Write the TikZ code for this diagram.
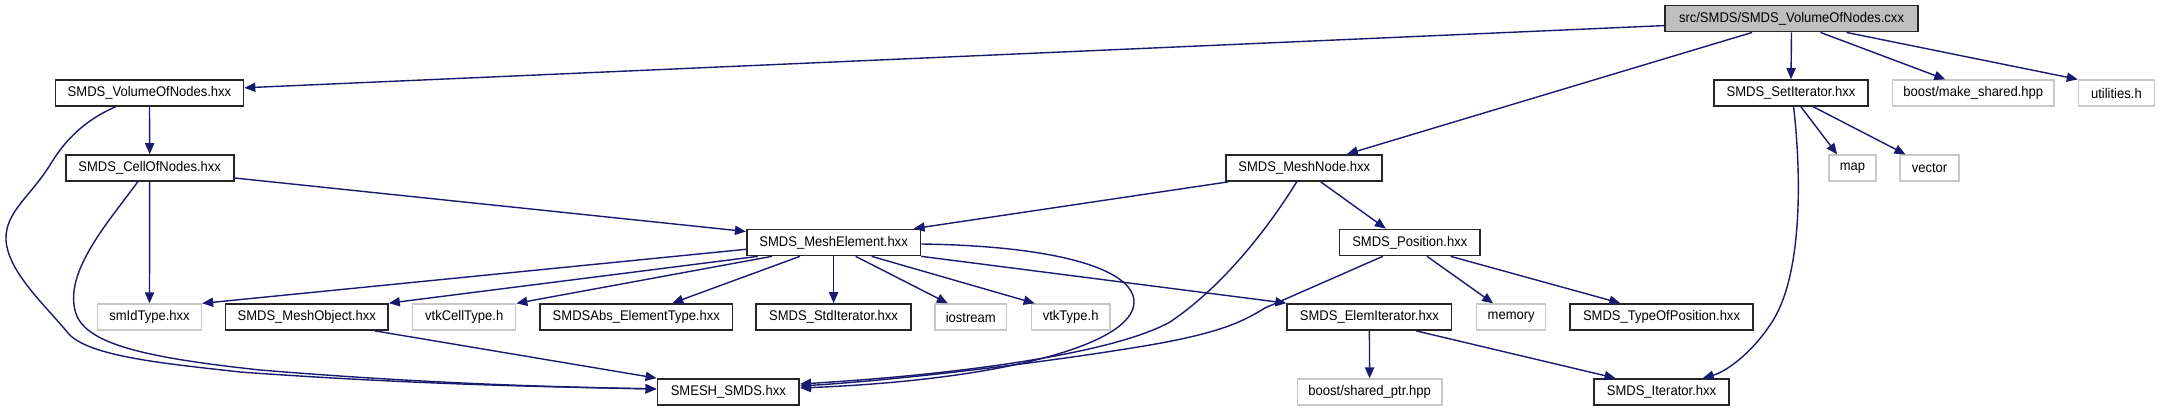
\documentclass[tikz,border=0pt]{standalone}
\usepackage{fontspec}
\setmainfont{Liberation Sans}[FakeStretch=0.93]
\usepackage{tikz}
\usetikzlibrary{arrows.meta}
\definecolor{edgeblue}{HTML}{191970}
\definecolor{rootgray}{HTML}{BFBFBF}
\definecolor{sysgray}{HTML}{C8C8C8}

\begin{document}
\begin{tikzpicture}[x=0.5pt,y=-0.5pt]
      \tikzstyle{every node}=[rectangle,minimum height=13pt,inner sep=0pt,
			      font=\fontsize{7}{8}\selectfont]
      \tikzstyle{hdr}=[draw=black!85,line width=0.85pt,fill=white]
      \tikzstyle{sysinc}=[draw=sysgray,line width=0.65pt,fill=white]
      \tikzstyle{link}=[draw=edgeblue,line width=0.7pt,
			-{Triangle[length=5.5pt,width=4.6pt]}]
      \useasboundingbox (0,0) rectangle (2159,411);

      \node[hdr,fill=rootgray,minimum width=126.5pt] (root) at (1791.5,18.6) {src/SMDS/SMDS\_VolumeOfNodes.cxx};

      \node[hdr,minimum width=94pt] (volnodes) at (149.5,93) {SMDS\_VolumeOfNodes.hxx};
      \node[hdr,minimum width=77.3pt] (setiter) at (1791,93) {SMDS\_SetIterator.hxx};
      \node[sysinc,minimum width=80.6pt] (mkshared) at (1973.3,93) {boost/make\_shared.hpp};
      \node[sysinc,minimum width=38pt] (utilities) at (2116.4,93) {utilities.h};

      \node[hdr,minimum width=84pt] (cellnodes) at (149.7,168) {SMDS\_CellOfNodes.hxx};
      \node[hdr,minimum width=78pt] (meshnode) at (1304.3,168) {SMDS\_MeshNode.hxx};
      \node[sysinc,minimum width=23.5pt] (map) at (1852.5,168) {map};
      \node[sysinc,minimum width=29.5pt] (vector) at (1929.5,168) {vector};

      \node[hdr,minimum width=86.8pt] (meshelem) at (833.6,242.5) {SMDS\_MeshElement.hxx};
      \node[hdr,minimum width=70.2pt] (position) at (1409.8,242.5) {SMDS\_Position.hxx};

      \node[sysinc,minimum width=52pt] (smid) at (149.5,317) {smIdType.hxx};
      \node[hdr,minimum width=81.3pt] (meshobj) at (306.7,317) {SMDS\_MeshObject.hxx};
      \node[sysinc,minimum width=51.5pt] (vtkcell) at (464.2,317) {vtkCellType.h};
      \node[hdr,minimum width=96.3pt] (abstype) at (636.3,317) {SMDSAbs\_ElementType.hxx};
      \node[hdr,minimum width=77.6pt] (stditer) at (833.6,317) {SMDS\_StdIterator.hxx};
      \node[sysinc,minimum width=35.9pt] (iostream) at (970.8,317) {iostream};
      \node[sysinc,minimum width=39.3pt] (vtktype) at (1070.7,317) {vtkType.h};
      \node[hdr,minimum width=82.2pt] (elemiter) at (1369.4,317) {SMDS\_ElemIterator.hxx};
      \node[sysinc,minimum width=34.6pt] (memory) at (1511.2,317) {memory};
      \node[hdr,minimum width=91.7pt] (typepos) at (1661.5,317) {SMDS\_TypeOfPosition.hxx};

      \node[hdr,minimum width=70.9pt] (smesh) at (728.3,392) {SMESH\_SMDS.hxx};
      \node[sysinc,minimum width=72.4pt] (sharedptr) at (1369.6,392) {boost/shared\_ptr.hpp};
      \node[hdr,minimum width=67.5pt] (iterator) at (1661.5,392) {SMDS\_Iterator.hxx};

      \draw[link] ([yshift=-3.5pt]root.west) -- ([yshift=2.6pt]volnodes.east);
      \draw[link] ([xshift=-19.7pt]root.south) -- ([xshift=21.3pt]meshnode.north);
      \draw[link] (root.south) -- (setiter.north);
      \draw[link] ([xshift=14.5pt]root.south) -- ([xshift=-14pt]mkshared.north);
      \draw[link] ([xshift=27.5pt]root.south) -- (utilities.north west);

      \draw[link] (volnodes.south) -- (cellnodes.north);
      \draw[link] ([xshift=-17pt]volnodes.south) .. controls (85,120) and (65,140) .. (50,165)
	  .. controls (30,197) and (5,212) .. (6,240) .. controls (8,272) and (45,305) .. (68,333)
	  .. controls (88,357) and (170,364) .. (240,372) .. controls (420,385) and (560,387) .. ([yshift=1.5pt]smesh.west);

      \draw[link] ([yshift=-5pt]cellnodes.east) -- ([yshift=5.5pt]meshelem.west);
      \draw[link] (cellnodes.south) -- (smid.north);
      \draw[link] ([xshift=-6pt]cellnodes.south) .. controls (110,220) and (65,270) .. (75,310)
	  .. controls (82,345) and (150,358) .. (260,370) .. controls (430,384) and (560,387) .. ([yshift=1.5pt]smesh.west);

      \draw[link] ([xshift=-38pt]meshnode.south) -- ([xshift=40pt]meshelem.north);
      \draw[link] ([xshift=-3.8pt]meshnode.south) .. controls (1270,225) and (1225,285) .. (1170,322)
	  .. controls (1110,355) and (950,375) .. ([yshift=4pt]smesh.east);
      \draw[link] ([xshift=8.2pt]meshnode.south) -- ([xshift=-12pt]position.north);

      \draw[link] ([xshift=5pt]setiter.south) -- ([xshift=-7.7pt]map.north);
      \draw[link] ([xshift=11.2pt]setiter.south) -- ([xshift=-12pt]vector.north);
      \draw[link] ([xshift=1.3pt]setiter.south) .. controls (1802,180) and (1802,280) .. (1770,325)
	  .. controls (1750,355) and (1725,372) .. ([xshift=20.6pt]iterator.north);

      \draw[link] ([yshift=-3.4pt]meshelem.west) -- (smid.north east);
      \draw[link] ([xshift=6pt]meshelem.south west) -- (meshobj.north east);
      \draw[link] ([xshift=13pt]meshelem.south west) -- (vtkcell.north east);
      \draw[link] ([xshift=27pt]meshelem.south west) -- ([xshift=18pt]abstype.north);
      \draw[link] (meshelem.south) -- (stditer.north);
      \draw[link] ([xshift=11pt]meshelem.south) -- ([xshift=-11.5pt]iostream.north);
      \draw[link] ([xshift=19pt]meshelem.south) -- ([xshift=-18pt]vtktype.north);
      \draw[link] (meshelem.south east) -- (elemiter.north west);
      \draw[link] ([yshift=-0.75pt]meshelem.east) .. controls (1060,246) and (1134,270) .. (1134,302)
	  .. controls (1134,345) and (1000,380) .. ([yshift=2pt]smesh.east);

      \draw[link] ([xshift=34pt]meshobj.south) -- (smesh.north west);

      \draw[link] ([xshift=-13.5pt]position.south) -- (1265,308) .. controls (1245,320) and (1225,332) .. (1150,345)
	  .. controls (1050,362) and (900,380) .. ([yshift=3pt]smesh.east);
      \draw[link] ([xshift=8.6pt]position.south) -- ([xshift=-9pt]memory.north);
      \draw[link] ([xshift=20.4pt]position.south) -- ([xshift=-20.6pt]typepos.north);

      \draw[link] (elemiter.south) -- (sharedptr.north);
      \draw[link] ([xshift=23.3pt]elemiter.south) -- ([xshift=-23pt]iterator.north);
  \end{tikzpicture}
\end{document}
